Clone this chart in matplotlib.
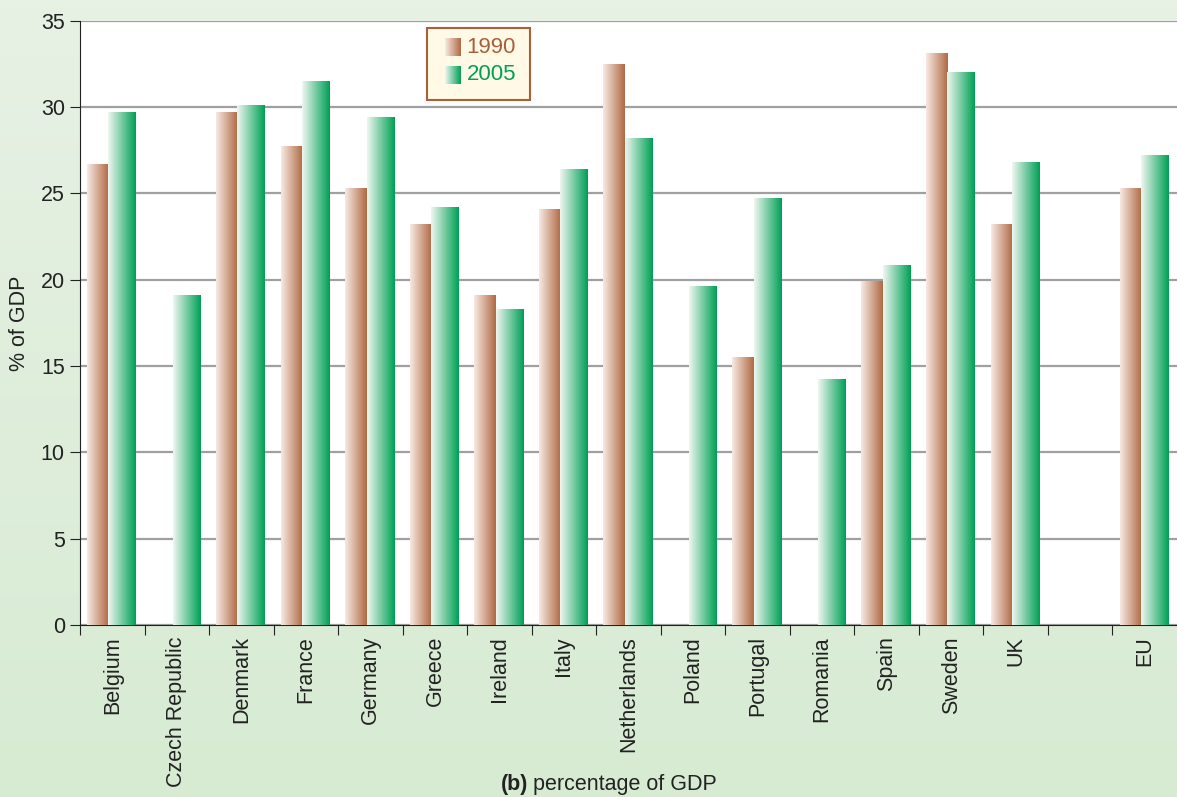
import numpy as np
import matplotlib
matplotlib.use("Agg")
import matplotlib.pyplot as plt
from matplotlib.colors import LinearSegmentedColormap
from matplotlib.patches import Rectangle

plt.rcParams['font.family'] = ['Liberation Sans', 'DejaVu Sans']

countries = ["Belgium", "Czech Republic", "Denmark", "France", "Germany", "Greece",
             "Ireland", "Italy", "Netherlands", "Poland", "Portugal", "Romania",
             "Spain", "Sweden", "UK", "", "EU"]
vals_1990 = [26.7, np.nan, 29.7, 27.7, 25.3, 23.2, 19.1, 24.1, 32.5, np.nan, 15.5,
             np.nan, 19.9, 33.1, 23.2, np.nan, 25.3]
vals_2005 = [29.7, 19.1, 30.1, 31.5, 29.4, 24.2, 18.25, 26.4, 28.2, 19.6, 24.7,
             14.25, 20.8, 32.0, 26.8, np.nan, 27.2]

cm_brown = LinearSegmentedColormap.from_list("b", ["#f7e9e2", "#b06a45"])
cm_green = LinearSegmentedColormap.from_list("g", ["#eef6f0", "#00a055"])
grad = np.linspace(0, 1, 64).reshape(1, -1)

fig = plt.figure(figsize=(11.77, 7.97), dpi=100)
# background gradient
bg = fig.add_axes([0, 0, 1, 1], zorder=-10)
bg.imshow(np.linspace(0, 1, 100).reshape(-1, 1),
          cmap=LinearSegmentedColormap.from_list("bg", ["#e7f1e4", "#d7ebd3"]),
          aspect='auto', extent=[0, 1, 0, 1], origin='upper')
bg.axis('off')

ax = fig.add_axes([0.068, 0.2158, 0.932, 0.758])
ax.set_facecolor('white')


def gbar(x0, x1, h, cmap):
    if np.isnan(h):
        return
    ax.imshow(grad, cmap=cmap, extent=[x0, x1, 0, h], aspect='auto', zorder=3)


for i in range(len(countries)):
    gbar(i + 0.11, i + 0.44, vals_1990[i], cm_brown)
    gbar(i + 0.44, i + 0.87, vals_2005[i], cm_green)

ax.set_xlim(0, len(countries))
ax.set_ylim(0, 35)
ax.set_yticks(range(0, 36, 5))
ax.grid(axis='y', color='#a0a0a0', linewidth=1.6, zorder=1)
ax.set_axisbelow(True)

ax.set_xticks(range(0, len(countries)))
ax.set_xticklabels([])
ax.set_xticks(np.arange(len(countries)) + 0.5, minor=True)
ax.set_xticklabels(countries, minor=True, rotation=90, fontsize=15.5, color='#222222')
ax.tick_params(axis='x', which='minor', length=0, pad=8)
ax.tick_params(axis='x', which='major', length=7, direction='out', color='#222222')
ax.tick_params(axis='y', length=7, labelsize=15.5, colors='#222222', pad=4)

for s in ['top', 'right']:
    ax.spines[s].set_visible(False)
ax.spines['left'].set_color('#222222')
ax.spines['bottom'].set_color('#222222')
ax.set_ylabel("% of GDP", fontsize=15.5, color='#222222', labelpad=8)

# legend box
lx0, ly0 = 0.3625, 0.874
lw, lh = 0.088, 0.091
fig.patches.append(Rectangle((lx0, ly0), lw, lh, transform=fig.transFigure,
                             facecolor='#fff9e6', edgecolor='#a8603c', linewidth=1.5, zorder=5))
for k, (lab, cmap, col) in enumerate([("1990", cm_brown, '#a8603c'), ("2005", cm_green, '#00a055')]):
    yb = ly0 + lh - 0.035 - k * 0.035
    la = fig.add_axes([lx0 + 0.0155, yb, 0.0135, 0.022], zorder=6)
    la.imshow(grad, cmap=cmap, aspect='auto')
    la.axis('off')
    fig.text(lx0 + 0.034, yb + 0.011, lab, color=col, fontsize=16, va='center', zorder=7)

fig.text(0.449, 0.002, "(b)", fontsize=15.5, fontweight='bold', ha='right', va='bottom', color='#222222')
fig.text(0.453, 0.002, "percentage of GDP", fontsize=15.5, ha='left', va='bottom', color='#222222')

fig.savefig("out.png", dpi=100)
